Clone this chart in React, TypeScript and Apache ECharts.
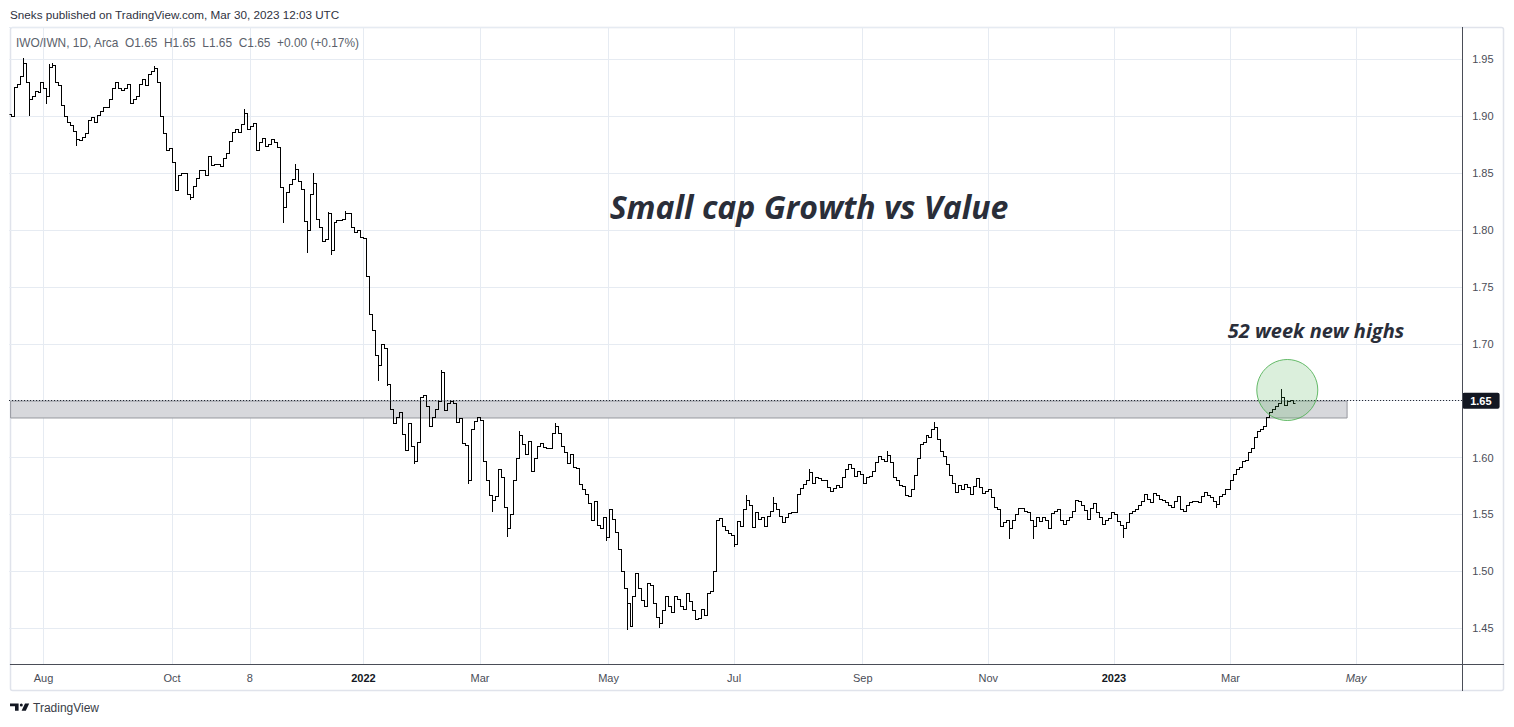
import React, { useEffect, useRef } from "react";
import * as echarts from "echarts";

// ---- calendar (category axis) ----
const START_DATE = "2021-07-16";
const SLOT_COUNT = 486;
const HOLIDAYS = [
  "2021-09-06", "2021-11-25", "2021-12-24", "2022-01-17", "2022-02-21", "2022-04-15",
  "2022-05-30", "2022-06-20", "2022-07-04", "2022-09-05", "2022-11-24", "2022-12-26",
  "2023-01-02", "2023-01-16", "2023-02-20", "2023-04-07", "2023-05-29", "2023-06-19",
];
const LAST_DATA_DATE = "2023-03-30";

// ---- time axis tick labels ----
const TICK_DATES = [
  "2021-08-02", "2021-10-01", "2021-11-08", "2022-01-03", "2022-03-01", "2022-05-02",
  "2022-07-01", "2022-09-01", "2022-11-01", "2023-01-03", "2023-03-01", "2023-05-01",
];
const TICK_LABELS = ["Aug", "Oct", "8", "2022", "Mar", "May", "Jul", "Sep", "Nov", "2023", "Mar", "May"];

// ---- daily closes IWO/IWN ----
const FIRST_OPEN = 1.902;
const closes2021 = [
  1.900, 1.926, 1.928, 1.935, 1.947, 1.930, 1.915, 1.918, 1.922, 1.921,
  1.930, 1.925, 1.918, 1.943, 1.945, 1.930, 1.927, 1.910, 1.900, 1.895,
  1.892, 1.887, 1.880, 1.879, 1.882, 1.885, 1.897, 1.899, 1.895, 1.901,
  1.905, 1.908, 1.908, 1.915, 1.925, 1.930, 1.925, 1.923, 1.925, 1.928,
  1.912, 1.915, 1.918, 1.928, 1.933, 1.927, 1.937, 1.940, 1.942, 1.930,
  1.900, 1.885, 1.870, 1.872, 1.860, 1.835, 1.848, 1.850, 1.850, 1.832,
  1.829, 1.839, 1.846, 1.853, 1.853, 1.848, 1.865, 1.857, 1.858, 1.858,
  1.856, 1.863, 1.868, 1.878, 1.886, 1.889, 1.886, 1.893, 1.903, 1.889,
  1.891, 1.894, 1.870, 1.877, 1.881, 1.874, 1.876, 1.880, 1.877, 1.873,
  1.838, 1.820, 1.833, 1.840, 1.845, 1.854, 1.843, 1.836, 1.808, 1.800,
  1.832, 1.841, 1.810, 1.803, 1.790, 1.792, 1.815, 1.782, 1.807, 1.809,
  1.809, 1.810, 1.815, 1.815, 1.803, 1.798, 1.800, 1.794,
];
const closes2022 = [
  1.793, 1.760,
  1.726, 1.712, 1.690, 1.681, 1.700, 1.696, 1.665, 1.643, 1.630, 1.636,
  1.640, 1.621, 1.607, 1.630, 1.610, 1.597, 1.614, 1.653, 1.655, 1.645,
  1.628, 1.636, 1.643, 1.650, 1.675, 1.642, 1.648, 1.650, 1.648, 1.631,
  1.635, 1.613, 1.611, 1.580, 1.625, 1.632, 1.636, 1.633, 1.597, 1.580,
  1.567, 1.563, 1.566, 1.590, 1.583, 1.557, 1.538, 1.550, 1.580, 1.600,
  1.620, 1.612, 1.603, 1.615, 1.588, 1.600, 1.610, 1.613, 1.609, 1.608,
  1.608, 1.622, 1.628, 1.622, 1.610, 1.605, 1.595, 1.603, 1.592, 1.591,
  1.577, 1.572, 1.568, 1.560, 1.545, 1.562, 1.541, 1.538, 1.548, 1.530,
  1.555, 1.546, 1.535, 1.520, 1.500, 1.485, 1.472, 1.452, 1.478, 1.499,
  1.485, 1.475, 1.470, 1.490, 1.488, 1.472, 1.460, 1.455, 1.466, 1.478,
  1.470, 1.464, 1.478, 1.476, 1.470, 1.467, 1.481, 1.474, 1.466, 1.458,
  1.459, 1.467, 1.462, 1.481, 1.483, 1.500, 1.545, 1.547, 1.540, 1.536,
  1.534, 1.532, 1.524, 1.544, 1.540, 1.555, 1.563, 1.558, 1.539, 1.552,
  1.546, 1.548, 1.540, 1.549, 1.553, 1.560, 1.555, 1.549, 1.543, 1.548,
  1.551, 1.552, 1.552, 1.568, 1.573, 1.577, 1.580, 1.587, 1.578, 1.583,
  1.582, 1.580, 1.580, 1.574, 1.571, 1.573, 1.576, 1.574, 1.583, 1.590,
  1.594, 1.591, 1.584, 1.588, 1.586, 1.578, 1.583, 1.584, 1.588, 1.596,
  1.601, 1.599, 1.597, 1.602, 1.596, 1.583, 1.580, 1.576, 1.575, 1.567,
  1.566, 1.572, 1.585, 1.600, 1.612, 1.614, 1.620, 1.618, 1.625, 1.627,
  1.616, 1.606, 1.601, 1.594, 1.585, 1.578, 1.570, 1.576, 1.572, 1.577,
  1.574, 1.568, 1.575, 1.582, 1.574, 1.569, 1.571, 1.572, 1.565, 1.557,
  1.555, 1.540, 1.543, 1.545, 1.538, 1.545, 1.550, 1.556, 1.556, 1.553,
  1.552, 1.545, 1.540, 1.548, 1.544, 1.548, 1.545, 1.538, 1.551, 1.553,
  1.555, 1.545, 1.542, 1.545, 1.548, 1.553, 1.563, 1.562, 1.558, 1.554,
  1.546, 1.556, 1.560, 1.552, 1.548, 1.542, 1.545, 1.547, 1.552,
];
const closes2023 = [
  1.550,
  1.544, 1.541, 1.538, 1.543, 1.551, 1.553, 1.555, 1.558, 1.562, 1.568,
  1.564, 1.561, 1.569, 1.567, 1.564, 1.563, 1.561, 1.558, 1.557, 1.562,
  1.566, 1.555, 1.553, 1.558, 1.561, 1.562, 1.562, 1.561, 1.566, 1.570,
  1.567, 1.565, 1.562, 1.559, 1.566, 1.568, 1.572, 1.572, 1.580, 1.586,
  1.590, 1.592, 1.597, 1.598, 1.605, 1.608, 1.618, 1.623, 1.625, 1.628,
  1.636, 1.640, 1.643, 1.645, 1.648, 1.653, 1.646, 1.650, 1.651, 1.648,
];
// notable wicks: [bar index, price]
const wickHighs = [
  [4, 1.951], [13, 1.946], [14, 1.947], [48, 1.944], [78, 1.906], [95, 1.858],
  [101, 1.85], [106, 1.816], [112, 1.817], [144, 1.677], [170, 1.623], [182, 1.63],
  [246, 1.567], [255, 1.565], [267, 1.59], [293, 1.606], [309, 1.631], [425, 1.66],
];
const wickLows = [
  [6, 1.901], [12, 1.912], [22, 1.875], [60, 1.827], [91, 1.807], [99, 1.781],
  [107, 1.779], [123, 1.668], [126, 1.664], [135, 1.595], [153, 1.578], [161, 1.553],
  [166, 1.531], [199, 1.528], [206, 1.449], [217, 1.451], [242, 1.522], [334, 1.529],
  [342, 1.529], [372, 1.53], [403, 1.557],
];

// ---- annotations ----
const LAST_PRICE = 1.648;
const ZONE_TOP = 1.6497;
const ZONE_BOTTOM = 1.6348;
const ZONE_END_INDEX = 447;
const CIRCLE_INDEX = 427;
const CIRCLE_PRICE = 1.6594;
const Y_MIN = 1.41836;
const Y_MAX = 1.97838;

const FONT = "Liberation Sans";
const GRID_COLOR = "#e6ebf2";
const AXIS_TEXT = "#4a4d57";

function tradingDays(): string[] {
  const out: string[] = [];
  const hol = new Set(HOLIDAYS);
  const d = new Date(START_DATE + "T00:00:00Z");
  while (out.length < SLOT_COUNT) {
    const wd = d.getUTCDay();
    const s = d.toISOString().slice(0, 10);
    if (wd !== 0 && wd !== 6 && !hol.has(s)) out.push(s);
    d.setUTCDate(d.getUTCDate() + 1);
  }
  return out;
}

const TV_LOGO =
  "M0 0H8.6V7.2H5V2.8H0Z M9.8 1.5A1.5 1.5 0 1 0 12.8 1.5A1.5 1.5 0 1 0 9.8 1.5Z M15 0H19.2L15.8 7.2H11.6Z";

export default function App() {
  const ref = useRef<HTMLDivElement>(null);
  useEffect(() => {
    if (!ref.current) return;
    try {
      echarts.graphic.registerShape("tvlogo", echarts.graphic.extendPath(TV_LOGO, {}));
    } catch (e) {}
    const chart = echarts.init(ref.current, undefined, { renderer: "svg" });
    const dates = tradingDays();
    const closes = [...closes2021, ...closes2022, ...closes2023];
    const hi = new Map(wickHighs.map(([i, v]) => [i, v]));
    const lo = new Map(wickLows.map(([i, v]) => [i, v]));
    const bars = closes.map((c, i) => {
      const o = i === 0 ? FIRST_OPEN : closes[i - 1];
      const h = Math.max(o, c, hi.has(i) ? (hi.get(i) as number) : -Infinity);
      const l = Math.min(o, c, lo.has(i) ? (lo.get(i) as number) : Infinity);
      return [i, o, h, l, c];
    });
    const tickSet = new Set(TICK_DATES);

    const option: any = {
      animation: false,
      backgroundColor: "#ffffff",
      grid: { left: 9.1, right: 51.8, top: 27, bottom: 62.7, containLabel: false },
      xAxis: {
        type: "category",
        data: dates,
        boundaryGap: true,
        axisLine: { show: false },
        axisTick: { show: false },
        splitLine: { show: false },
        axisLabel: {
          interval: (_i: number, v: string) => tickSet.has(v),
          margin: 8,
          fontSize: 11,
          fontFamily: FONT,
          color: AXIS_TEXT,
          formatter: (v: string) => {
            const k = TICK_DATES.indexOf(v);
            if (k < 0) return "";
            const t = TICK_LABELS[k];
            if (/^\d{4}$/.test(t)) return "{y|" + t + "}";
            if (v > LAST_DATA_DATE) return "{f|" + t + "}";
            return t;
          },
          rich: {
            y: { fontSize: 11, fontFamily: FONT, fontWeight: "bold", color: "#131722" },
            f: { fontSize: 11, fontFamily: FONT, fontStyle: "italic", color: AXIS_TEXT },
          },
        },
      },
      yAxis: {
        type: "value",
        position: "right",
        min: Y_MIN,
        max: Y_MAX,
        splitNumber: 11,
        axisLine: { show: false },
        axisTick: { show: false },
        axisLabel: {
          margin: 10,
          fontSize: 11,
          fontFamily: FONT,
          color: AXIS_TEXT,
          showMinLabel: false,
          showMaxLabel: false,
          formatter: (v: number) =>
            Math.abs(v * 20 - Math.round(v * 20)) < 1e-6 ? v.toFixed(2) : "",
        },
        splitLine: { show: true, lineStyle: { color: GRID_COLOR, width: 1 } },
      },
      series: [
        {
          type: "line",
          data: [],
          z: 0,
          silent: true,
          markLine: {
            z: 0,
            silent: true,
            symbol: ["none", "none"],
            label: { show: false },
            lineStyle: { color: GRID_COLOR, type: "solid", width: 1 },
            data: TICK_DATES.map((d) => ({ xAxis: d })),
          },
        },
        {
          type: "line",
          data: [],
          z: 1,
          silent: true,
          markArea: {
            z: 1,
            silent: true,
            itemStyle: { color: "#d7d8dc", borderColor: "#96989f", borderWidth: 1 },
            data: [
              [
                { xAxis: dates[0], yAxis: ZONE_TOP },
                { xAxis: dates[ZONE_END_INDEX], yAxis: ZONE_BOTTOM },
              ],
            ],
          },
        },
        {
          type: "custom",
          z: 3,
          silent: true,
          data: bars,
          encode: { x: 0, y: [1, 2, 3, 4] },
          renderItem: (_p: any, api: any) => {
            const idx = api.value(0);
            const pO = api.coord([idx, api.value(1)]);
            const pH = api.coord([idx, api.value(2)]);
            const pL = api.coord([idx, api.value(3)]);
            const pC = api.coord([idx, api.value(4)]);
            const xc = Math.round(pO[0]) + 0.5;
            const yO = Math.round(pO[1]) + 0.5;
            const yC = Math.round(pC[1]) + 0.5;
            const yH = Math.min(Math.round(pH[1]), yO - 0.5, yC - 0.5);
            const yL = Math.max(Math.round(pL[1]) + 1, yO + 0.5, yC + 0.5);
            const st = { stroke: "#000000", lineWidth: 1 };
            return {
              type: "group",
              children: [
                { type: "line", shape: { x1: xc, y1: yH, x2: xc, y2: yL }, style: st },
                { type: "line", shape: { x1: xc - 2, y1: yO, x2: xc, y2: yO }, style: st },
                { type: "line", shape: { x1: xc, y1: yC, x2: xc + 2, y2: yC }, style: st },
              ],
            };
          },
        },
        {
          type: "line",
          data: [],
          z: 4,
          silent: true,
          markLine: {
            z: 5,
            silent: true,
            symbol: ["none", "none"],
            lineStyle: { color: "#131722", type: [1, 2], width: 1 },
            label: {
              show: true,
              position: "end",
              distance: 0,
              formatter: "1.65",
              backgroundColor: "#131722",
              color: "#ffffff",
              fontWeight: "bold",
              fontSize: 11,
              fontFamily: FONT,
              padding: [3, 8, 2, 8],
              borderRadius: 2,
            },
            data: [{ yAxis: LAST_PRICE }],
          },
          markPoint: {
            z: 6,
            silent: true,
            symbol: "circle",
            symbolSize: 61,
            label: { show: false },
            itemStyle: {
              color: "rgba(76,175,80,0.2)",
              borderColor: "rgba(76,175,80,0.85)",
              borderWidth: 1,
            },
            data: [{ coord: [dates[CIRCLE_INDEX], CIRCLE_PRICE] }],
          },
        },
      ],
      graphic: [
        {
          type: "rect",
          z: -10,
          shape: { x: 10.5, y: 27.5, width: 1493, height: 663, r: 2 },
          style: { fill: "none", stroke: "#e0e3eb", lineWidth: 1.5 },
          silent: true,
        },
        {
          type: "line",
          z: 100,
          shape: { x1: 1462.5, y1: 27, x2: 1462.5, y2: 691 },
          style: { stroke: "#4a4d57", lineWidth: 1 },
          silent: true,
        },
        {
          type: "line",
          z: 100,
          shape: { x1: 10, y1: 664.5, x2: 1504, y2: 664.5 },
          style: { stroke: "#4a4d57", lineWidth: 1 },
          silent: true,
        },
        {
          type: "text",
          z: 100,
          x: 10,
          y: 14.5,
          style: {
            text: "Sneks published on TradingView.com, Mar 30, 2023 12:03 UTC",
            fontSize: 11.7,
            fontFamily: FONT,
            fill: "#2f3241",
            verticalAlign: "middle",
          },
        },
        {
          type: "text",
          z: 100,
          x: 16,
          y: 43,
          style: {
            text: "IWO/IWN, 1D, Arca  O1.65  H1.65  L1.65  C1.65  +0.00 (+0.17%)",
            fontSize: 11.9,
            fontFamily: FONT,
            fill: "#5b5f6b",
            verticalAlign: "middle",
          },
        },
        {
          type: "text",
          z: 100,
          x: 809,
          y: 206,
          style: {
            text: "Small cap Growth vs Value",
            fontSize: 32,
            fontFamily: "Open Sans",
            fontStyle: "italic",
            fontWeight: "bold",
            fill: "#2a2e39",
            align: "center",
            verticalAlign: "middle",
          },
        },
        {
          type: "text",
          z: 100,
          x: 1316,
          y: 330,
          style: {
            text: "52 week new highs",
            fontSize: 20,
            fontFamily: "Open Sans",
            fontStyle: "italic",
            fontWeight: "bold",
            fill: "#2a2e39",
            align: "center",
            verticalAlign: "middle",
          },
        },
        {
          type: "tvlogo",
          z: 100,
          x: 10,
          y: 703.5,
          style: { fill: "#131722" },
          silent: true,
        },
        {
          type: "text",
          z: 100,
          x: 33,
          y: 708,
          style: {
            text: "TradingView",
            fontSize: 12,
            fontFamily: FONT,
            fill: "#3a3d47",
            verticalAlign: "middle",
          },
        },
      ],
    };
    chart.setOption(option);
    return () => chart.dispose();
  }, []);
  return (
    <div
      ref={ref}
      style={{ position: "fixed", left: 0, top: 0, width: 1514, height: 727, background: "#fff" }}
    />
  );
}
